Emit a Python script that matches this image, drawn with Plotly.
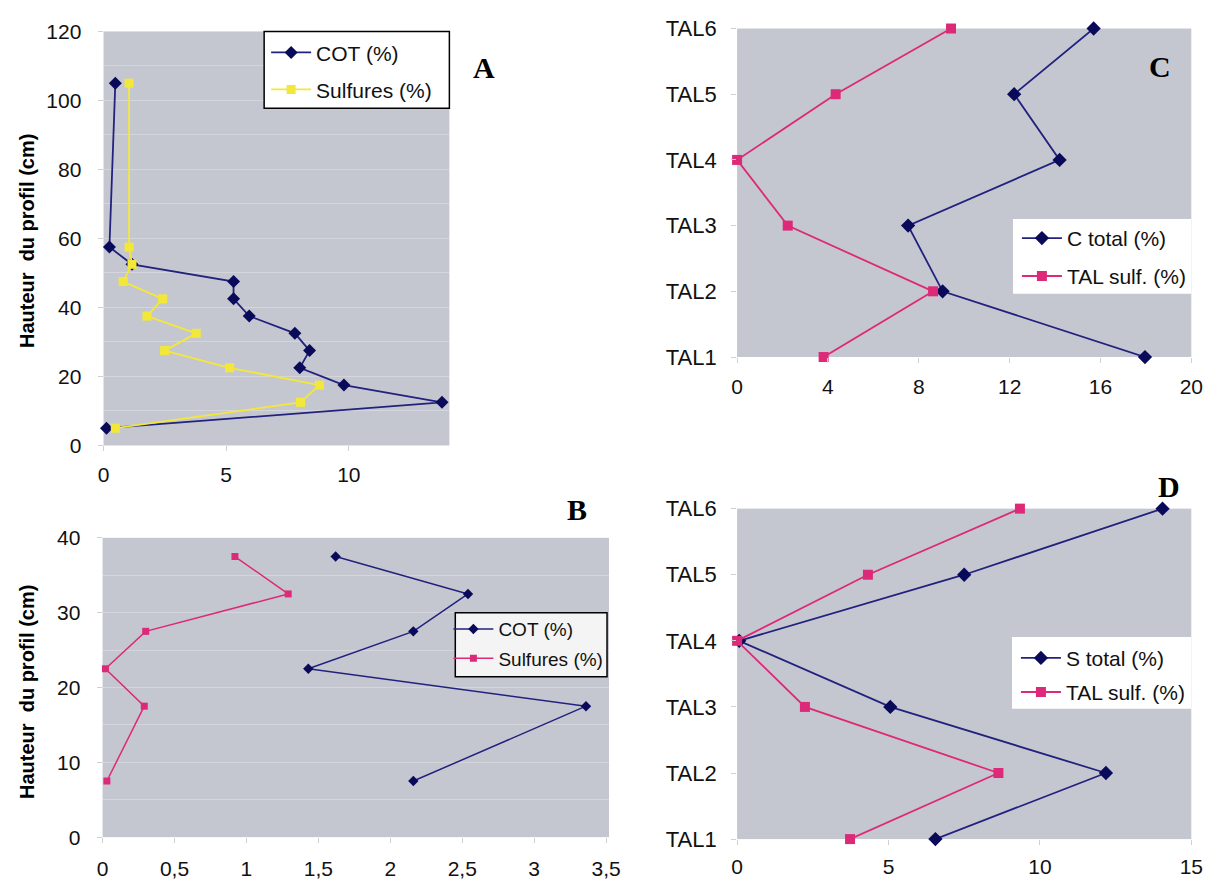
import plotly.graph_objects as go

# ---------------- data ----------------
# Panel A
A_height = [105, 57.5, 52.5, 47.5, 42.5, 37.5, 32.5, 27.5, 22.5, 17.5, 12.5, 5]
A_cot = [0.48, 0.24, 1.16, 5.3, 5.3, 5.94, 7.8, 8.4, 8.0, 9.8, 13.8, 0.12]
A_sulf = [1.04, 1.04, 1.16, 0.8, 2.41, 1.77, 3.78, 2.49, 5.14, 8.8, 8.03, 0.48]

# Panel B
B_height = [37.5, 32.5, 27.5, 22.5, 17.5, 7.5]
B_cot = [1.62, 2.54, 2.16, 1.43, 3.36, 2.16]
B_sulf = [0.92, 1.29, 0.30, 0.02, 0.29, 0.03]

# Panels C and D
tal_labels = ["TAL1", "TAL2", "TAL3", "TAL4", "TAL5", "TAL6"]
tal_pos = [1, 2, 3, 4, 5, 6]
C_ctotal = [17.96, 9.05, 7.53, 14.2, 12.2, 15.7]
C_talsulf = [3.81, 8.63, 2.23, 0.0, 4.34, 9.42]
D_stotal = [6.55, 12.18, 5.06, 0.07, 7.5, 14.05]
D_talsulf = [3.73, 8.63, 2.24, 0.0, 4.32, 9.34]

# ---------------- style ----------------
W, H = 1224, 890
NAVY = "#22227e"
NAVY_M = "#0a0a5a"
YELLOW = "#f3e83a"
PINK = "#dc2a78"
BG = "#c5c7d0"
GRID = "#d5d6dd"
FONT = "Liberation Sans"


def X(px):
    return px / W


def Y(py):
    return 1 - py / H


fig = go.Figure()


def line(x, y, name, color, mcolor, symbol, msize, ax, leg, width=1.8):
    fig.add_trace(go.Scatter(
        x=x, y=y, name=name, mode="lines+markers",
        line=dict(color=color, width=width),
        marker=dict(symbol=symbol, size=msize, color=mcolor),
        xaxis=ax[0], yaxis=ax[1], legend=leg, cliponaxis=False,
    ))


# A
line(A_cot, A_height, "COT (%)", NAVY, NAVY_M, "diamond", 10, ("x", "y"), "legend2")
line(A_sulf, A_height, "Sulfures (%)", YELLOW, YELLOW, "square", 9, ("x", "y"), "legend3")
# B
line(B_cot, B_height, "COT (%)", NAVY, NAVY_M, "diamond", 8, ("x2", "y2"), "legend4", 1.5)
line(B_sulf, B_height, "Sulfures (%)", PINK, PINK, "square", 7, ("x2", "y2"), "legend5", 1.5)
# C
line(C_ctotal, tal_pos, "C total (%)", NAVY, NAVY_M, "diamond", 11, ("x3", "y3"), "legend6")
line(C_talsulf, tal_pos, "TAL sulf. (%)", PINK, PINK, "square", 10, ("x3", "y3"), "legend7")
# D
line(D_stotal, tal_pos, "S total (%)", NAVY, NAVY_M, "diamond", 11, ("x4", "y4"), "legend8")
line(D_talsulf, tal_pos, "TAL sulf. (%)", PINK, PINK, "square", 10, ("x4", "y4"), "legend9")

tickfont = dict(family=FONT, size=21, color="#111111")
tickfont_c = dict(family=FONT, size=22, color="#111111")

common_x = dict(showgrid=False, zeroline=False, showline=False, ticks="outside",
                ticklen=5, tickcolor="#d0d0d0", fixedrange=True)
common_y = dict(zeroline=False, showline=False, ticks="outside",
                ticklen=5, tickcolor="#d0d0d0", fixedrange=True)

layout = dict(
    width=W, height=H, margin=dict(l=0, r=0, t=0, b=0),
    paper_bgcolor="white", plot_bgcolor=BG, separators=", ",
    font=dict(family=FONT, size=18, color="#111111"),
    showlegend=True,
    # A
    xaxis=dict(domain=[X(99), X(450)], anchor="y", range=[0, 14.1], dtick=5,
               tickfont=tickfont, ticklabelstandoff=5, **common_x),
    yaxis=dict(domain=[Y(446), Y(20)], anchor="x", range=[0, 120], dtick=20,
               showgrid=True, gridcolor=GRID, gridwidth=1,
               minor=dict(dtick=10, showgrid=True, gridcolor=GRID, gridwidth=1),
               tickfont=tickfont, ticklabelstandoff=12, **common_y),
    # B
    xaxis2=dict(domain=[X(98), X(612)], anchor="y2", range=[0, 3.52], dtick=0.5,
                tickfont=tickfont, ticklabelstandoff=8, **common_x),
    yaxis2=dict(domain=[Y(849), Y(541)], anchor="x2", range=[0, 40], dtick=10,
                showgrid=True, gridcolor=GRID, gridwidth=1,
                minor=dict(dtick=5, showgrid=True, gridcolor=GRID, gridwidth=1),
                tickfont=tickfont, ticklabelstandoff=12, **common_y),
    # C
    xaxis3=dict(domain=[X(742), X(1203)], anchor="y3", range=[0, 20], dtick=4,
                tickfont=tickfont, ticklabelstandoff=6, **common_x),
    yaxis3=dict(domain=[Y(355), Y(17)], anchor="x3", range=[1, 6], tickvals=tal_pos,
                ticktext=tal_labels, showgrid=False, tickfont=tickfont_c,
                ticklabelstandoff=10, **common_y),
    # D
    xaxis4=dict(domain=[X(742), X(1203)], anchor="y4", range=[0, 15], dtick=5,
                tickfont=tickfont, ticklabelstandoff=4, **common_x),
    yaxis4=dict(domain=[Y(851), Y(511)], anchor="x4", range=[1, 6], tickvals=tal_pos,
                ticktext=tal_labels, showgrid=False, tickfont=tickfont_c,
                ticklabelstandoff=10, **common_y),
)


def leg(xpx, ypx, size):
    return dict(x=X(xpx), y=Y(ypx), xanchor="left", yanchor="middle",
                bgcolor="rgba(0,0,0,0)", borderwidth=0, itemwidth=40,
                font=dict(family=FONT, size=size, color="#111111"))


# legend entries positioned individually inside drawn boxes
layout["legend"] = dict(visible=False)
layout["legend2"] = leg(264, 42, 21)
layout["legend3"] = leg(264, 80, 21)
layout["legend4"] = leg(449, 635, 19)
layout["legend5"] = leg(449, 665, 19)
layout["legend6"] = leg(1026, 233, 21)
layout["legend7"] = leg(1026, 272, 21)
layout["legend8"] = leg(1025, 665, 21)
layout["legend9"] = leg(1025, 700, 21)

fig.update_layout(**layout)

# legend boxes
boxes = [
    (262, 20, 450, 99, "white", "black"),
    (456, 618, 610, 684, "#f4f4f4", "black"),
    (1022, 213, 1203, 290, "white", None),
    (1021, 643, 1203, 717, "white", None),
]
for x0, y0, x1, y1, fill, border in boxes:
    fig.add_shape(type="rect", xref="paper", yref="paper",
                  x0=X(x0), x1=X(x1), y0=Y(y1), y1=Y(y0),
                  fillcolor=fill,
                  line=dict(color=border if border else fill, width=1.5 if border else 0),
                  layer="above")

# panel letters
for txt, xp, yp in [("A", 485, 57), ("B", 580, 512), ("C", 1171, 56), ("D", 1180, 488)]:
    fig.add_annotation(text="<b>%s</b>" % txt, x=X(xp), y=Y(yp), xref="paper", yref="paper",
                       showarrow=False, xanchor="center", yanchor="middle",
                       font=dict(family="Liberation Serif", size=30, color="black"))

# y-axis titles
for yp in [236, 700]:
    fig.add_annotation(text="<b>Hauteur  du profil (cm)</b>", x=X(22), y=Y(yp),
                       xref="paper", yref="paper", showarrow=False, textangle=-90,
                       xanchor="center", yanchor="middle",
                       font=dict(family=FONT, size=20, color="black"))

fig.write_html("out.html", config={"displayModeBar": False},
               post_script="document.body.style.margin='0px';document.body.style.overflow='hidden';")
